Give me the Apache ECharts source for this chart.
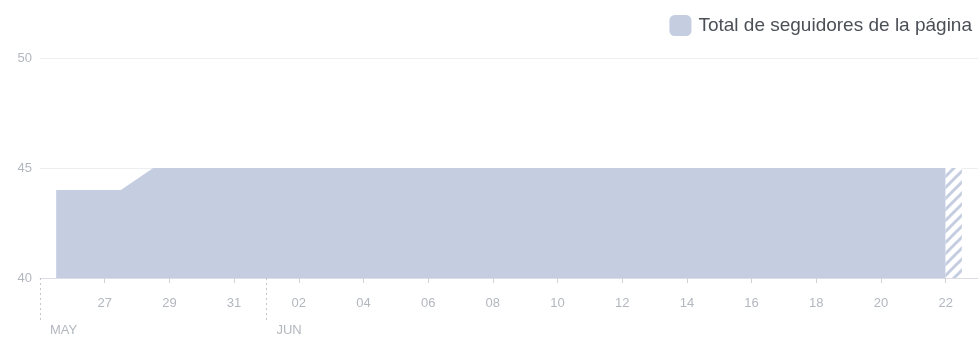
<!DOCTYPE html>
<html>
<head>
<meta charset="utf-8">
<script src="https://cdn.jsdelivr.net/npm/echarts@6/dist/echarts.min.js"></script>
<style>
  html, body { margin: 0; padding: 0; background: #fff; }
  #chart { width: 980px; height: 339px; }
</style>
</head>
<body>
<div id="chart"></div>
<script>
// Daily page follower totals, 25 May – 22 June (last day still in progress)
const days = [
  '25 May', '26 May', '27 May', '28 May', '29 May', '30 May', '31 May',
  '01 Jun', '02 Jun', '03 Jun', '04 Jun', '05 Jun', '06 Jun', '07 Jun',
  '08 Jun', '09 Jun', '10 Jun', '11 Jun', '12 Jun', '13 Jun', '14 Jun',
  '15 Jun', '16 Jun', '17 Jun', '18 Jun', '19 Jun', '20 Jun', '21 Jun',
  '22 Jun'
];
const followers = [
  44, 44, 44, 45, 45, 45, 45,
  45, 45, 45, 45, 45, 45, 45,
  45, 45, 45, 45, 45, 45, 45,
  45, 45, 45, 45, 45, 45, 45,
  45
];
const seriesName = 'Total de seguidores de la página';

// Day-of-month tick labels every two days, and month markers
const tickDays = [2, 4, 6, 8, 10, 12, 14, 16, 18, 20, 22, 24, 26, 28];
const tickLabels = ['27', '29', '31', '02', '04', '06', '08', '10', '12', '14', '16', '18', '20', '22'];
const monthDays = [0, 7];
const monthLabels = ['MAY', 'JUN'];

const yTicks = [40, 45, 50];

// Complete days are centred in their slot; the solid area runs up to the
// start of the current day, which is drawn hatched for its first half.
const lastFull = days.length - 1;
const solidData = followers.slice(0, lastFull).map((v, i) => [i + 0.5, v]);
solidData.push([lastFull, followers[lastFull - 1]]);
const partialData = [[lastFull, followers[lastFull]], [lastFull + 0.5, followers[lastFull]]];

const fillColor = '#c5cde0';

// Diagonal stripe pattern for the partial day
function stripePattern() {
  const s = 11;
  const c = document.createElement('canvas');
  c.width = s; c.height = s;
  const ctx = c.getContext('2d');
  ctx.fillStyle = '#ffffff';
  ctx.fillRect(0, 0, s, s);
  ctx.strokeStyle = fillColor;
  ctx.lineWidth = 3;
  ctx.beginPath();
  for (let k = -1; k <= 1; k++) {
    ctx.moveTo(-2 + k * s, s + 2);
    ctx.lineTo(s + 2 + k * s, -2);
  }
  ctx.stroke();
  return c;
}

const axisGrey = '#b3b7be';
const chart = echarts.init(document.getElementById('chart'), null, { renderer: 'canvas' });

chart.setOption({
  animation: false,
  textStyle: { fontFamily: 'Arial, "Liberation Sans", sans-serif' },
  legend: {
    right: 3,
    top: 10,
    itemWidth: 22,
    itemHeight: 21,
    itemGap: 10,
    icon: 'roundRect',
    data: [{ name: seriesName, itemStyle: { color: fillColor, borderRadius: 3 } }],
    textStyle: { color: '#4b4f56', fontSize: 19, padding: [0, 0, 0, 2] }
  },
  grid: { left: 40, right: 2, top: 58, bottom: 61 },
  xAxis: [
    {
      type: 'value',
      min: 0,
      max: 29,
      interval: 2,
      axisLine: { show: true, lineStyle: { color: '#dcdee3' } },
      axisTick: {
        show: true,
        length: 5,
        customValues: tickDays,
        lineStyle: { color: '#cfd2d8' }
      },
      axisLabel: {
        customValues: tickDays,
        color: axisGrey,
        fontSize: 13,
        margin: 19,
        formatter: v => tickLabels[tickDays.indexOf(v)] || ''
      },
      splitLine: { show: false }
    },
    {
      type: 'value',
      position: 'bottom',
      min: 0,
      max: 29,
      axisLine: { show: false },
      axisTick: {
        show: true,
        length: 44,
        customValues: monthDays,
        lineStyle: { color: '#c4c8ce', type: [2, 3], width: 1 }
      },
      axisLabel: {
        customValues: monthDays,
        color: axisGrey,
        fontSize: 13,
        margin: 46,
        align: 'left',
        padding: [0, 0, 0, 10],
        formatter: v => monthLabels[monthDays.indexOf(v)] || ''
      },
      splitLine: { show: false }
    }
  ],
  yAxis: {
    type: 'value',
    min: 40,
    max: 50,
    interval: 5,
    axisLine: { show: false },
    axisTick: { show: false },
    axisLabel: {
      color: axisGrey,
      fontSize: 13,
      margin: 8,
      customValues: yTicks
    },
    splitLine: { show: true, lineStyle: { color: '#eceef1', width: 1 } }
  },
  series: [
    {
      name: seriesName,
      type: 'line',
      xAxisIndex: 0,
      data: solidData,
      symbol: 'none',
      lineStyle: { width: 0 },
      areaStyle: { color: fillColor, opacity: 1, origin: 'start' },
      itemStyle: { color: fillColor },
      z: 2
    },
    {
      name: 'partial',
      type: 'line',
      xAxisIndex: 0,
      data: partialData,
      symbol: 'none',
      lineStyle: { width: 0 },
      areaStyle: { color: { image: stripePattern(), repeat: 'repeat' }, opacity: 1, origin: 'start' },
      z: 2
    }
  ]
});
</script>
</body>
</html>
